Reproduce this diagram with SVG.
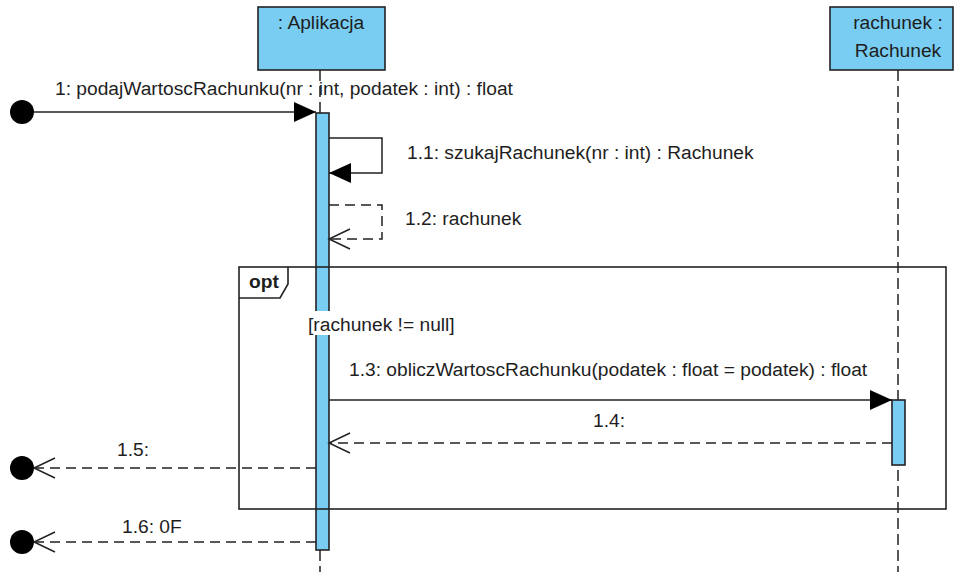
<svg xmlns="http://www.w3.org/2000/svg" width="955" height="572" viewBox="0 0 955 572">
  <style>
    .lbl { font-family: "Liberation Sans", Arial, sans-serif; font-size: 19.2px; fill: #1e1e1e; }
    .mid { text-anchor: middle; }
    .bold { font-weight: bold; }
    .box { fill: #79CDF2; stroke: #222; stroke-width: 1.6; }
    .life { fill: none; stroke: #222; stroke-width: 1.5; stroke-dasharray: 11 5; }
    .msg { fill: none; stroke: #222; stroke-width: 1.5; }
    .ret { fill: none; stroke: #222; stroke-width: 1.5; stroke-dasharray: 10 6; }
    .frame { fill: none; stroke: #222; stroke-width: 1.6; }
  </style>
  <defs>
    <marker id="solidHead" markerUnits="userSpaceOnUse" markerWidth="24" markerHeight="22" refX="22" refY="10" orient="auto" overflow="visible">
      <path d="M0,0 L22,10 L0,20 Z" fill="#000"/>
    </marker>
    <marker id="openHead" markerUnits="userSpaceOnUse" markerWidth="24" markerHeight="22" refX="21" refY="10" orient="auto" overflow="visible">
      <path d="M0,0 L21,10 L0,20" fill="none" stroke="#222" stroke-width="1.5"/>
    </marker>
  </defs>
  <rect width="955" height="572" fill="#fff"/>

  <!-- lifeline heads and lifelines -->
  <g id="aplikacja">
    <line class="life" x1="320" y1="70" x2="320" y2="572"/>
    <rect class="box" x="258" y="7" width="127" height="63"/>
    <text class="lbl mid" x="321" y="29">: Aplikacja</text>
    <rect id="aplikacja-activation" class="box" x="316" y="113" width="13" height="437"/>
  </g>

  <g id="rachunek">
    <line class="life" x1="898" y1="70" x2="898" y2="572"/>
    <rect class="box" x="830" y="7" width="123" height="63"/>
    <text class="lbl mid" x="898" y="29">rachunek :</text>
    <text class="lbl mid" x="898" y="57">Rachunek</text>
    <rect id="rachunek-activation" class="box" x="892" y="400" width="13" height="65"/>
  </g>

  <!-- found/lost message endpoints -->
  <g id="start-point"><circle cx="22" cy="112" r="12" fill="#000"/></g>
  <g id="end-point-1"><circle cx="22" cy="468" r="12" fill="#000"/></g>
  <g id="end-point-2"><circle cx="22" cy="542" r="12" fill="#000"/></g>

  <!-- combined fragment -->
  <g id="opt-fragment">
    <rect class="frame" x="239" y="267" width="707" height="242"/>
    <path class="frame" d="M239,298 H280 L288,284 V267"/>
    <text class="lbl bold" x="249" y="288">opt</text>
    <rect x="307" y="311" width="149" height="24" fill="#fff"/>
    <text class="lbl" x="308" y="331">[rachunek != null]</text>
  </g>

  <!-- messages -->
  <g id="connectors">
    <line class="msg" x1="34" y1="112" x2="316" y2="112" marker-end="url(#solidHead)"/>
    <text class="lbl" x="55" y="95">1: podajWartoscRachunku(nr : int, podatek : int) : float</text>

    <path class="msg" d="M329,138 H382 V173 H329" marker-end="url(#solidHead)"/>
    <text class="lbl" x="407" y="159">1.1: szukajRachunek(nr : int) : Rachunek</text>

    <path class="ret" d="M329,205 H382 V239 H329" marker-end="url(#openHead)"/>
    <text class="lbl" x="405" y="225">1.2: rachunek</text>

    <line class="msg" x1="329" y1="400" x2="892" y2="400" marker-end="url(#solidHead)"/>
    <text class="lbl" x="349" y="376">1.3: obliczWartoscRachunku(podatek : float = podatek) : float</text>

    <line class="ret" x1="892" y1="443" x2="329" y2="443" marker-end="url(#openHead)"/>
    <text class="lbl" x="593" y="427">1.4:</text>

    <line class="ret" x1="316" y1="468" x2="34" y2="468" marker-end="url(#openHead)"/>
    <text class="lbl" x="117" y="456">1.5:</text>

    <line class="ret" x1="316" y1="542" x2="34" y2="542" marker-end="url(#openHead)"/>
    <text class="lbl" x="122" y="533">1.6: 0F</text>
  </g>
</svg>
